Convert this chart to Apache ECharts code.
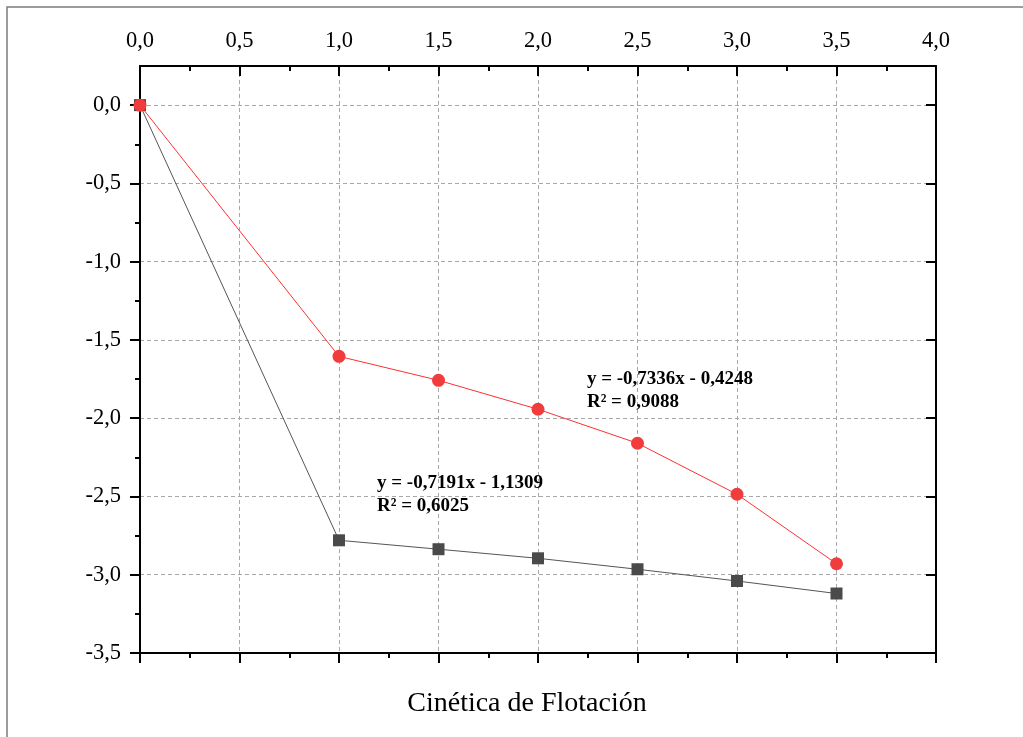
<!DOCTYPE html>
<html>
<head>
<meta charset="utf-8">
<script src="https://cdn.jsdelivr.net/npm/echarts@6/dist/echarts.min.js"></script>
<style>
  html, body { margin: 0; padding: 0; background: #ffffff; }
  #chart { width: 1023px; height: 737px; }
</style>
</head>
<body>
<div id="chart"></div>
<script>
// Flotation kinetics: ln-type decay values vs. time
const timePoints = [0, 1, 1.5, 2, 2.5, 3, 3.5];
const redValues = [0, -1.605, -1.758, -1.943, -2.16, -2.486, -2.93];
const blackValues = [0, -2.78, -2.837, -2.895, -2.965, -3.04, -3.12];

// Axis ticks
const xMajorTicks = [0, 0.5, 1, 1.5, 2, 2.5, 3, 3.5, 4];
const yMajorTicks = [-3.5, -3, -2.5, -2, -1.5, -1, -0.5, 0];
const yMinorTicks = [-3.25, -2.75, -2.25, -1.75, -1.25, -0.75, -0.25];

// Linear fit annotations and their anchors (data coordinates: left edge, vertical middle)
const fitRedText = ['y = -0,7336x - 0,4248', 'R² = 0,9088'];
const fitRedAnchor = [2.246, -1.825];
const fitBlackText = ['y = -0,7191x - 1,1309', 'R² = 0,6025'];
const fitBlackAnchor = [1.191, -2.489];

const axisTitle = 'Cinética de Flotación';

const serif = '"Liberation Serif", "Times New Roman", serif';
const fmt = v => v.toFixed(1).replace('.', ',');
const pairs = (xs, ys) => xs.map((x, i) => [x, ys[i]]);

const chart = echarts.init(document.getElementById('chart'), null, { renderer: 'canvas' });

const axisLine = { show: true, onZero: false, lineStyle: { color: '#000', width: 2 } };
const dashed = { show: true, lineStyle: { color: '#a8a8a8', type: [4, 3], width: 1 } };

const xBase = { type: 'value', min: 0, max: 4, interval: 0.5, axisLine };
const yBase = { type: 'value', min: -3.5, max: 0.25, interval: 0.5, axisLine };

chart.setOption({
  animation: false,
  backgroundColor: '#ffffff',
  grid: { left: 140, top: 66, right: 87, bottom: 84, containLabel: false },
  xAxis: [
    Object.assign({}, xBase, {
      position: 'top',
      axisTick: { show: true, inside: true, length: 10, lineStyle: { color: '#000', width: 2 } },
      minorTick: { show: true, splitNumber: 2, length: 5, lineStyle: { color: '#000', width: 2 } },
      axisLabel: { show: true, margin: 13, color: '#000', fontSize: 22.5, fontFamily: serif, formatter: fmt },
      splitLine: dashed
    }),
    Object.assign({}, xBase, {
      position: 'bottom',
      axisTick: { show: true, inside: false, length: 10, lineStyle: { color: '#000', width: 2 } },
      minorTick: { show: true, splitNumber: 2, length: 5, lineStyle: { color: '#000', width: 2 } },
      axisLabel: { show: false },
      splitLine: { show: false }
    })
  ],
  yAxis: [
    Object.assign({}, yBase, {
      position: 'left',
      axisTick: { show: true, inside: false, length: 10, customValues: yMajorTicks, lineStyle: { color: '#000', width: 2 } },
      axisLabel: { show: true, margin: 19, color: '#000', fontSize: 22.5, fontFamily: serif, customValues: yMajorTicks, formatter: fmt },
      splitLine: dashed
    }),
    Object.assign({}, yBase, {
      position: 'right',
      axisTick: { show: true, inside: true, length: 10, customValues: yMajorTicks, lineStyle: { color: '#000', width: 2 } },
      axisLabel: { show: false },
      splitLine: { show: false }
    }),
    Object.assign({}, yBase, {
      position: 'left',
      axisLine: { show: false },
      axisTick: { show: true, inside: false, length: 5, customValues: yMinorTicks, lineStyle: { color: '#000', width: 2 } },
      axisLabel: { show: false },
      splitLine: { show: false }
    }),
    Object.assign({}, yBase, {
      position: 'right',
      axisLine: { show: false },
      axisTick: { show: true, inside: true, length: 5, customValues: yMinorTicks, lineStyle: { color: '#000', width: 2 } },
      axisLabel: { show: false },
      splitLine: { show: false }
    })
  ],
  series: [
    {
      name: 'black',
      type: 'line',
      xAxisIndex: 0,
      yAxisIndex: 0,
      data: pairs(timePoints, blackValues),
      symbol: 'rect',
      symbolSize: 12,
      lineStyle: { color: '#555555', width: 1 },
      itemStyle: { color: '#4a4a4a' },
      z: 3
    },
    {
      name: 'red',
      type: 'line',
      xAxisIndex: 0,
      yAxisIndex: 0,
      data: pairs(timePoints, redValues),
      symbol: 'circle',
      symbolSize: 13,
      lineStyle: { color: '#ff3030', width: 1 },
      itemStyle: { color: '#f03c3c' },
      z: 4
    }
  ]
});

function fitLabel(lines, anchor) {
  const p = chart.convertToPixel({ xAxisIndex: 0, yAxisIndex: 0 }, anchor);
  return {
    type: 'text',
    x: p[0],
    y: p[1],
    z: 10,
    style: {
      text: lines.join('\n'),
      fill: '#000',
      font: 'bold 19px ' + serif,
      lineHeight: 23,
      align: 'left',
      verticalAlign: 'middle'
    }
  };
}

chart.setOption({
  graphic: [
    {
      type: 'rect',
      shape: { x: 7, y: 7, width: 1040, height: 760 },
      style: { fill: 'none', stroke: '#7c7c7c', lineWidth: 1.5 },
      silent: true,
      z: 0
    },
    {
      type: 'text',
      x: 527,
      y: 704,
      style: {
        text: axisTitle,
        fill: '#000',
        font: '28px ' + serif,
        align: 'center',
        verticalAlign: 'middle'
      }
    },
    fitLabel(fitRedText, fitRedAnchor),
    fitLabel(fitBlackText, fitBlackAnchor)
  ]
});
</script>
</body>
</html>
